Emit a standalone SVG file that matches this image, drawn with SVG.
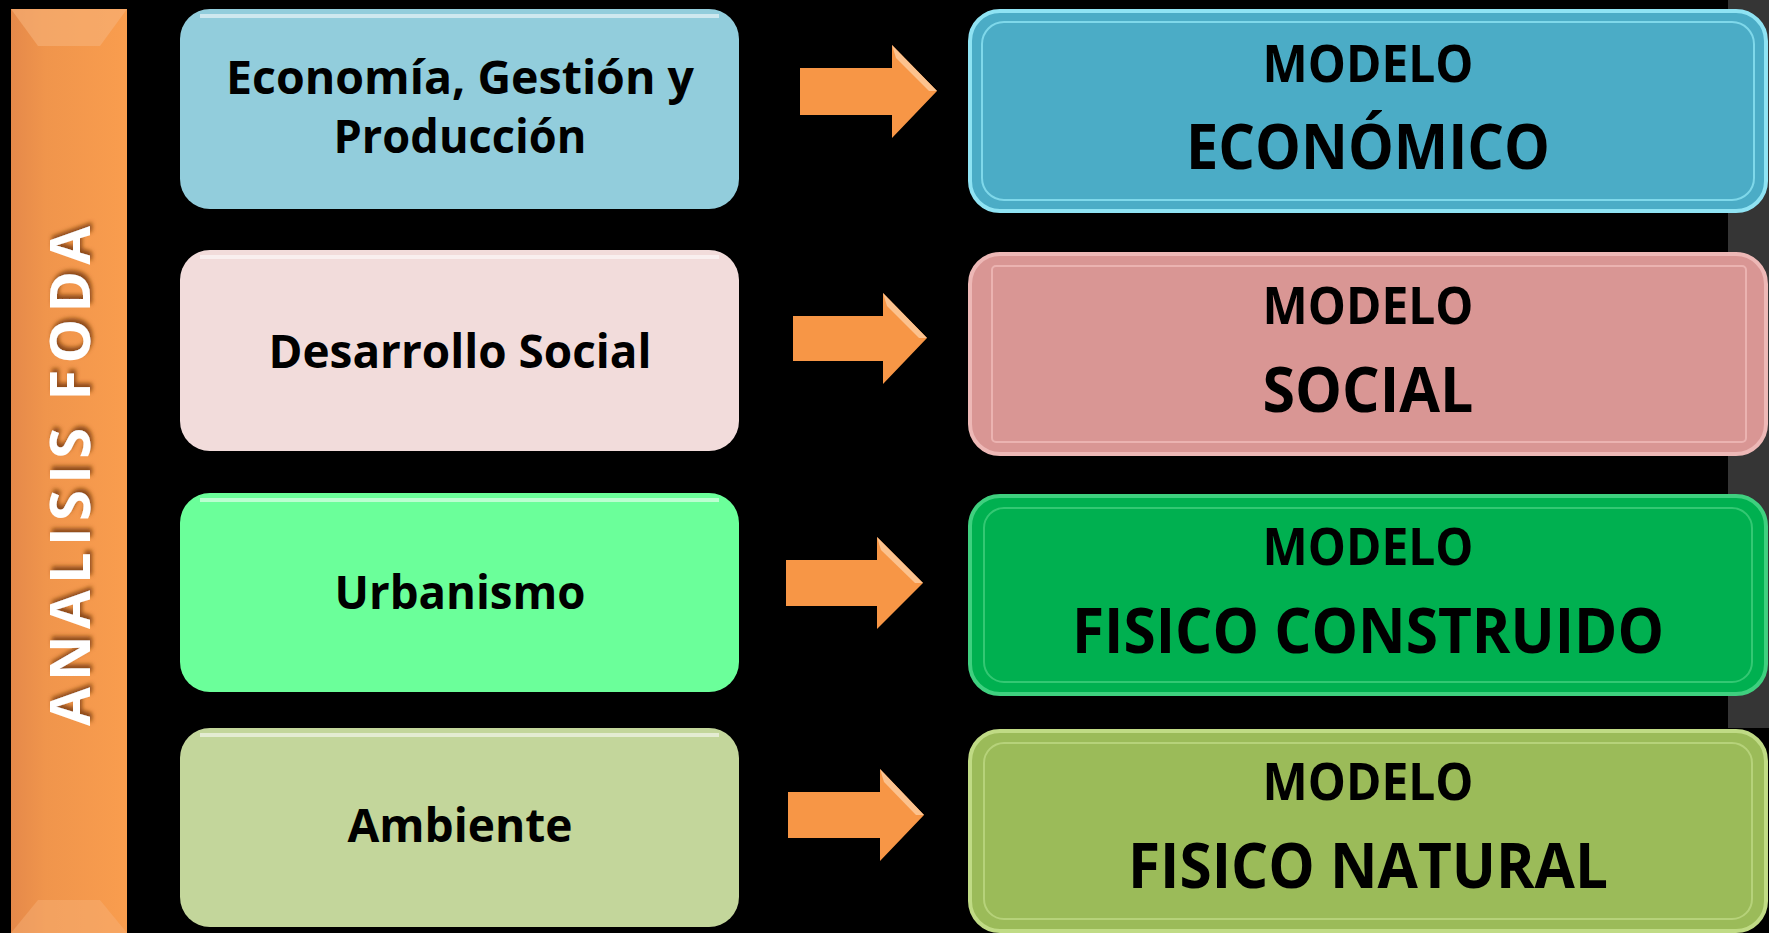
<svg xmlns="http://www.w3.org/2000/svg" width="1769" height="933" viewBox="0 0 1769 933">
  <defs>
    <style>
      .lbl { font-family: "Open Sans", "Noto Sans", "Liberation Sans", sans-serif; font-weight: 700; fill: #000; text-anchor: middle; }
      .l { font-size: 46px; }
      .m { font-size: 52px; }
      .b { font-size: 62px; }
      .side { font-family: "Open Sans", "Noto Sans", "Liberation Sans", sans-serif; font-weight: 700; font-size: 56px; fill: #fff; text-anchor: middle; }
      .arrow { fill: #F79646; }
      .facet { fill: #FCC28E; }
      .gloss { fill: none; stroke: #ffffff; stroke-opacity: 0.55; stroke-width: 4; }
    </style>
    <linearGradient id="barGrad" x1="0" y1="0" x2="1" y2="0">
      <stop offset="0" stop-color="#E5894A"/>
      <stop offset="0.3" stop-color="#F0954C"/>
      <stop offset="1" stop-color="#F99D4E"/>
    </linearGradient>
    <filter id="txtShadow" x="-20%" y="-20%" width="140%" height="140%">
      <feDropShadow dx="4" dy="2" stdDeviation="2" flood-color="#7A3E10" flood-opacity="0.85"/>
    </filter>
  </defs>

  <rect x="0" y="0" width="1769" height="933" fill="#000"/>
  <rect x="1728" y="0" width="41" height="728" fill="#353535"/>

  <g id="analisis-foda">
    <rect x="11" y="9" width="116" height="924" fill="url(#barGrad)"/>
    <polygon points="11,9 127,9 100,46 38,46" fill="#F7B27A" opacity="0.6"/>
    <polygon points="11,933 127,933 100,900 38,900" fill="#F7B27A" opacity="0.45"/>
    <text class="side" transform="translate(90,476) rotate(-90)" textLength="500" lengthAdjust="spacing" filter="url(#txtShadow)">ANALISIS FODA</text>
  </g>

  <g id="n-economia">
    <rect x="180" y="9" width="559" height="200" rx="30" fill="#92CDDC"/>
    <path class="gloss" d="M200,16 L719,16"/>
    <text class="lbl l" x="460" y="94" textLength="468" lengthAdjust="spacingAndGlyphs">Economía, Gestión y</text>
    <text class="lbl l" x="460" y="153" textLength="253" lengthAdjust="spacingAndGlyphs">Producción</text>
  </g>
  <g id="n-desarrollo">
    <rect x="180" y="250" width="559" height="201" rx="30" fill="#F2DCDB"/>
    <path class="gloss" d="M200,257 L719,257"/>
    <text class="lbl l" x="460" y="368" textLength="383" lengthAdjust="spacingAndGlyphs">Desarrollo Social</text>
  </g>
  <g id="n-urbanismo">
    <rect x="180" y="493" width="559" height="199" rx="30" fill="#6BFF9A"/>
    <path class="gloss" d="M200,500 L719,500"/>
    <text class="lbl l" x="460" y="609" textLength="251" lengthAdjust="spacingAndGlyphs">Urbanismo</text>
  </g>
  <g id="n-ambiente">
    <rect x="180" y="728" width="559" height="199" rx="30" fill="#C3D69B"/>
    <path class="gloss" d="M200,735 L719,735"/>
    <text class="lbl l" x="460" y="842" textLength="225" lengthAdjust="spacingAndGlyphs">Ambiente</text>
  </g>

  <g id="connectors">
    <polygon class="arrow" points="800,68 892,68 892,45 937,91 892,138 892,115 800,115"/>
    <polygon class="facet" points="892,45 937,91 929,91 896,58"/>
    <polygon class="arrow" points="793,316 883,316 883,293 927,338 883,384 883,361 793,361"/>
    <polygon class="facet" points="883,293 927,338 919,338 887,306"/>
    <polygon class="arrow" points="786,560 877,560 877,537 923,583 877,629 877,606 786,606"/>
    <polygon class="facet" points="877,537 923,583 915,583 881,550"/>
    <polygon class="arrow" points="788,792 880,792 880,769 924,815 880,861 880,838 788,838"/>
    <polygon class="facet" points="880,769 924,815 916,815 884,782"/>
  </g>

  <g id="m-economico">
    <rect x="970" y="11" width="796" height="200" rx="30" fill="#4BACC6" stroke="#8FE3F3" stroke-width="4"/>
    <rect x="982" y="22" width="772" height="178" rx="22" fill="none" stroke="#7FD8EA" stroke-width="2"/>
    <text class="lbl m" x="1368" y="82" textLength="211" lengthAdjust="spacingAndGlyphs">MODELO</text>
    <text class="lbl b" x="1368" y="169" textLength="364" lengthAdjust="spacingAndGlyphs">ECONÓMICO</text>
  </g>
  <g id="m-social">
    <rect x="970" y="254" width="796" height="200" rx="30" fill="#D99694" stroke="#EDB8B6" stroke-width="4"/>
    <rect x="992" y="266" width="754" height="176" rx="4" fill="none" stroke="#EBB3B1" stroke-width="2"/>
    <text class="lbl m" x="1368" y="324" textLength="211" lengthAdjust="spacingAndGlyphs">MODELO</text>
    <text class="lbl b" x="1368" y="412" textLength="211" lengthAdjust="spacingAndGlyphs">SOCIAL</text>
  </g>
  <g id="m-fisico-construido">
    <rect x="970" y="496" width="796" height="198" rx="30" fill="#00B050" stroke="#3FD07F" stroke-width="4"/>
    <rect x="984" y="508" width="768" height="174" rx="20" fill="none" stroke="#33C873" stroke-width="2"/>
    <text class="lbl m" x="1368" y="565" textLength="211" lengthAdjust="spacingAndGlyphs">MODELO</text>
    <text class="lbl b" x="1368" y="653" textLength="592" lengthAdjust="spacingAndGlyphs">FISICO CONSTRUIDO</text>
  </g>
  <g id="m-fisico-natural">
    <rect x="970" y="731" width="796" height="200" rx="30" fill="#9BBB59" stroke="#C0DB85" stroke-width="4"/>
    <rect x="984" y="743" width="768" height="176" rx="20" fill="none" stroke="#B6D27A" stroke-width="2"/>
    <text class="lbl m" x="1368" y="800" textLength="211" lengthAdjust="spacingAndGlyphs">MODELO</text>
    <text class="lbl b" x="1368" y="888" textLength="480" lengthAdjust="spacingAndGlyphs">FISICO NATURAL</text>
  </g>
</svg>
